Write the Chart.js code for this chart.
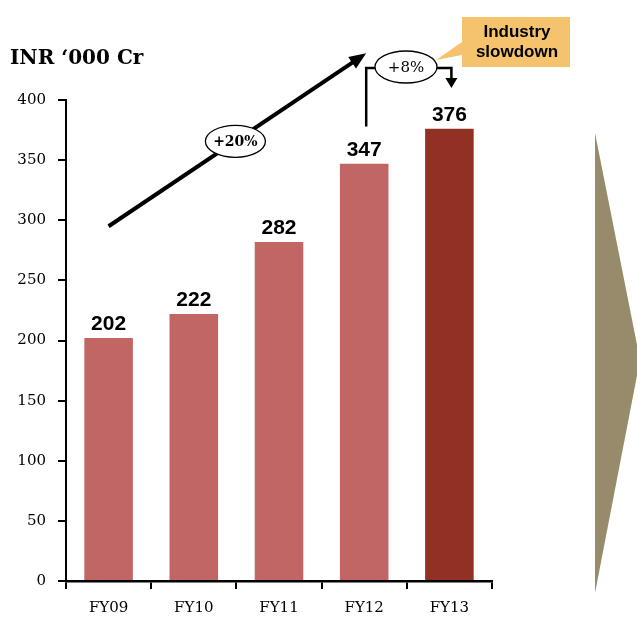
<!DOCTYPE html>
<html><head><meta charset="utf-8">
<script src="https://cdn.jsdelivr.net/npm/chart.js@4"></script>
<style>html,body{margin:0;padding:0;background:#fff}#wrap{width:637px;height:617px;position:relative}</style>
</head><body><div id="wrap"><canvas id="c" width="637" height="617"></canvas></div>
<script>
const categories = ["FY09","FY10","FY11","FY12","FY13"];
const values = [202,222,282,347,376];
const barColors = ["#c26565","#c26565","#c26565","#c26565","#913124"];
const yTicks = [0,50,100,150,200,250,300,350,400];
const unitTitle = "INR \u2018000 Cr";
const cagrLabel = "+20%";
const lastGrowthLabel = "+8%";
const calloutText = ["Industry","slowdown"];

const serif = "'DejaVu Serif','Liberation Serif',serif";
const sans = "'Liberation Sans',Arial,sans-serif";

function ellipse(ctx,cx,cy,rx,ry,label){
  ctx.save();
  ctx.beginPath();ctx.ellipse(cx,cy,rx,ry,0,0,Math.PI*2);
  ctx.fillStyle="#fff";ctx.fill();
  ctx.lineWidth=1.3;ctx.strokeStyle="#000";ctx.stroke();
  ctx.fillStyle="#000";ctx.textAlign="center";ctx.textBaseline="middle";
  ctx.font=label.font;ctx.fillText(label.text,cx,cy+1);
  ctx.restore();
}
function arrowHead(ctx,x1,y1,x2,y2,len,w){
  const a=Math.atan2(y2-y1,x2-x1);
  ctx.beginPath();
  ctx.moveTo(x2,y2);
  ctx.lineTo(x2-len*Math.cos(a)+w*Math.sin(a),y2-len*Math.sin(a)-w*Math.cos(a));
  ctx.lineTo(x2-len*Math.cos(a)-w*Math.sin(a),y2-len*Math.sin(a)+w*Math.cos(a));
  ctx.closePath();ctx.fill();
}

const annotations = {
  id:"annotations",
  afterDraw(chart){
    const ctx=chart.ctx, x=chart.scales.x, y=chart.scales.y;
    ctx.save();
    // title
    ctx.fillStyle="#000";ctx.font="bold 20px "+serif;ctx.textAlign="left";ctx.textBaseline="alphabetic";
    ctx.fillText(unitTitle,10,64);
    // chevron
    ctx.fillStyle="#978b6c";
    ctx.beginPath();ctx.moveTo(595,133);ctx.lineTo(640,360);ctx.lineTo(595,593);ctx.closePath();ctx.fill();
    // big arrow
    const x0=x.getPixelForValue(0), y0=y.getPixelForValue(295);
    const x3=x.getPixelForValue(3), y3=y.getPixelForValue(438);
    ctx.strokeStyle="#000";ctx.fillStyle="#000";ctx.lineWidth=4;
    ctx.beginPath();ctx.moveTo(x0,y0);ctx.lineTo(x3-10,y3+7);ctx.stroke();
    arrowHead(ctx,x0,y0,x3+2,y3-1,17,7);
    ellipse(ctx,(x0+x3)/2-1,(y0+y3)/2+1,30,16,{text:cagrLabel,font:"bold 14px "+serif});
    // bracket +8%
    const bx=x.getPixelForValue(3)+2, by=y.getPixelForValue(378);
    const ex=x.getPixelForValue(4)+2;
    const topY=68;
    ctx.lineWidth=2.5;
    ctx.beginPath();ctx.moveTo(bx,by);ctx.lineTo(bx,topY);ctx.lineTo(ex,topY);ctx.lineTo(ex,80);ctx.stroke();
    ctx.beginPath();ctx.moveTo(ex-6,78);ctx.lineTo(ex+6,78);ctx.lineTo(ex,88);ctx.closePath();ctx.fill();
    // callout
    ctx.fillStyle="#f5c36e";
    ctx.beginPath();
    ctx.moveTo(462,17);ctx.lineTo(570,17);ctx.lineTo(570,67);ctx.lineTo(462,67);ctx.lineTo(462,55);
    ctx.lineTo(436,60);ctx.lineTo(462,42);ctx.closePath();ctx.fill();
    ctx.fillStyle="#000";ctx.font="bold 17px "+sans;ctx.textAlign="center";ctx.textBaseline="middle";
    ctx.fillText(calloutText[0],517,32);ctx.fillText(calloutText[1],517,52);
    ellipse(ctx,406,67,31,16,{text:lastGrowthLabel,font:"15px "+serif});
    // data labels
    const meta=chart.getDatasetMeta(0);
    ctx.fillStyle="#000";ctx.font="bold 21px "+sans;ctx.textAlign="center";ctx.textBaseline="alphabetic";
    meta.data.forEach((b,i)=>{ctx.fillText(String(values[i]),b.x,b.y-8);});
    ctx.restore();
  }
};

new Chart(document.getElementById("c"),{
  type:"bar",
  data:{labels:categories,datasets:[{data:values,backgroundColor:barColors,borderWidth:0,barPercentage:0.57,categoryPercentage:1}]},
  options:{
    responsive:false,animation:false,devicePixelRatio:1,
    layout:{padding:{top:100,right:145,bottom:0,left:0}},
    plugins:{legend:{display:false},tooltip:{enabled:false},title:{display:false}},
    scales:{
      x:{
        border:{display:true,color:"#000",width:2.5},
        grid:{display:true,drawOnChartArea:false,drawTicks:true,tickLength:8,color:"#000",lineWidth:2,offset:true},
        ticks:{color:"#000",font:{family:serif,size:15},padding:10},
        afterFit(s){s.height=36;}
      },
      y:{
        min:0,max:400,
        afterBuildTicks(s){s.ticks=yTicks.map(v=>({value:v}));},
        border:{display:true,color:"#000",width:2},
        grid:{display:true,drawOnChartArea:false,drawTicks:true,tickLength:8,color:"#000",lineWidth:2},
        ticks:{color:"#000",font:{family:serif,size:15},padding:12},
        afterFit(s){s.width=66;}
      }
    }
  },
  plugins:[annotations]
});
</script></body></html>
